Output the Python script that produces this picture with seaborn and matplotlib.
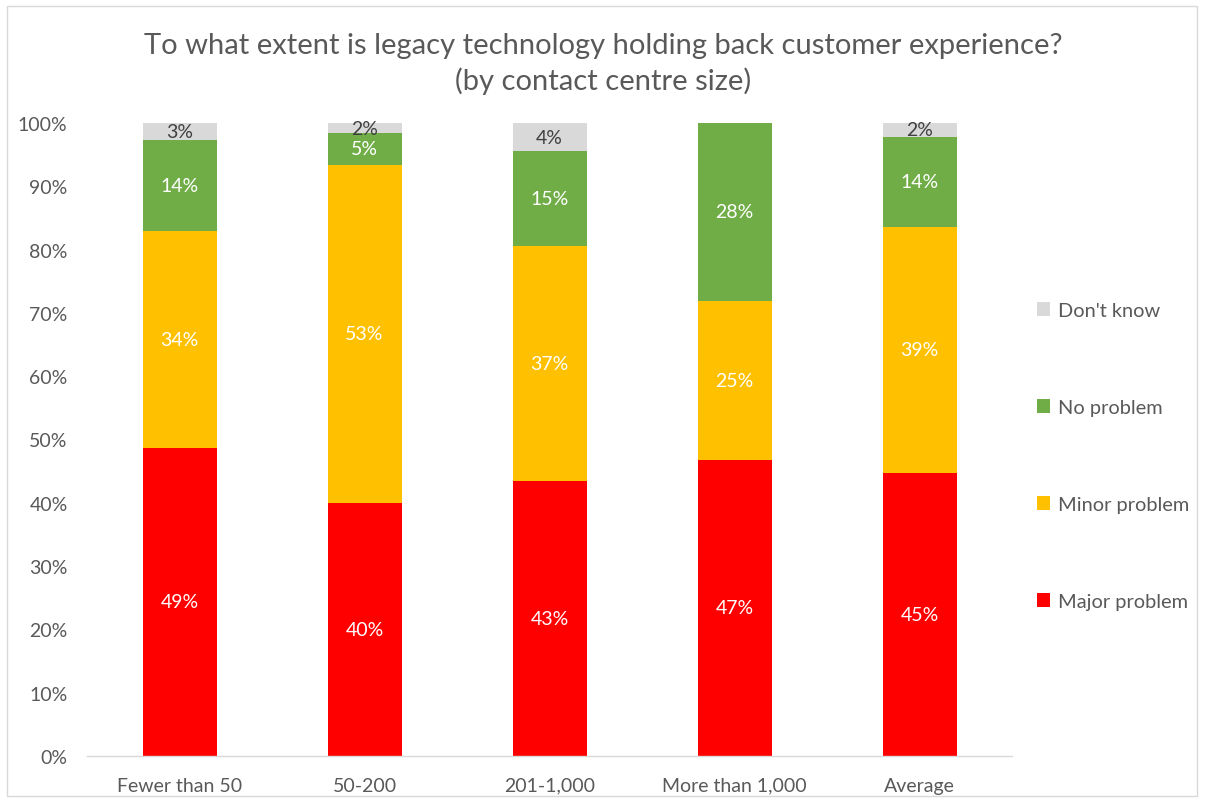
import matplotlib
matplotlib.use("Agg")
import matplotlib.pyplot as plt
import seaborn as sns
import pandas as pd
import numpy as np
from matplotlib.patches import Patch, Rectangle

categories = ["Fewer than 50", "50-200", "201-1,000", "More than 1,000", "Average"]
major_problem = [48.7, 40.0, 43.4, 46.8, 44.7]
minor_problem = [34.2, 53.4, 37.1, 25.1, 38.9]
no_problem = [14.4, 5.0, 15.0, 28.1, 14.2]
dont_know = [2.7, 1.6, 4.5, 0.0, 2.2]

series_names = ["Major problem", "Minor problem", "No problem", "Don't know"]
series_values = [major_problem, minor_problem, no_problem, dont_know]
colors = ["#FF0000", "#FFC000", "#70AD47", "#D9D9D9"]
label_colors = ["white", "white", "white", "#404040"]

sns.set_theme(style="white")
plt.rcParams['font.family'] = ['Lato', 'DejaVu Sans']
text_col = "#595959"

fig = plt.figure(figsize=(12.05, 8.03), dpi=100)
ax = fig.add_axes([87/1205, 1-757/803, (1012-87)/1205, (757-124)/803])

vals = np.array(series_values)
cum = np.cumsum(vals, axis=0)
bar_w = 74/185

# draw from top cumulative down so lower segments overlay
for i in range(len(series_names) - 1, -1, -1):
    df = pd.DataFrame({"cat": categories, "val": cum[i]})
    sns.barplot(data=df, x="cat", y="val", color=colors[i], width=bar_w,
                saturation=1, ax=ax, order=categories, linewidth=0)

# labels
for i in range(len(series_names)):
    for j in range(len(categories)):
        v = vals[i, j]
        if v <= 0:
            continue
        ymid = cum[i, j] - v / 2
        ax.text(j, ymid, f"{v:.0f}%", ha="center", va="center",
                color=label_colors[i], fontsize=14)

ax.set_ylim(0, 100)
ax.set_xlim(-0.5, len(categories) - 0.5)
ax.set_yticks(np.arange(0, 101, 10))
ax.set_yticklabels([f"{t}%" for t in range(0, 101, 10)])
ax.set_xlabel("")
ax.set_ylabel("")
ax.tick_params(axis="both", length=0, labelsize=14, labelcolor=text_col)
ax.tick_params(axis="y", pad=14)
ax.tick_params(axis="x", pad=15)
for s in ["top", "right", "left"]:
    ax.spines[s].set_visible(False)
ax.spines["bottom"].set_color("#D9D9D9")
ax.spines["bottom"].set_linewidth(1)
ax.grid(False)

fig.text(603/1205, 1-64/803,
         "To what extent is legacy technology holding back customer experience?\n(by contact centre size)",
         ha="center", va="center", fontsize=21, color=text_col, linespacing=1.35)

handles = [Patch(facecolor=colors[i], edgecolor="none", label=series_names[i]) for i in range(3, -1, -1)]
fig.legend(handles=handles, loc="center left", bbox_to_anchor=(1019/1205, 1-457/803),
           frameon=False, fontsize=14.4, labelcolor=text_col, handlelength=0.65,
           handleheight=0.65, handletextpad=0.4, labelspacing=4.0)

fig.patches.append(Rectangle((7/1205, 1-797/803), 1190/1205, 790/803, transform=fig.transFigure,
                             fill=False, edgecolor="#D9D9D9", linewidth=1))

fig.savefig("out.png", dpi=100)
